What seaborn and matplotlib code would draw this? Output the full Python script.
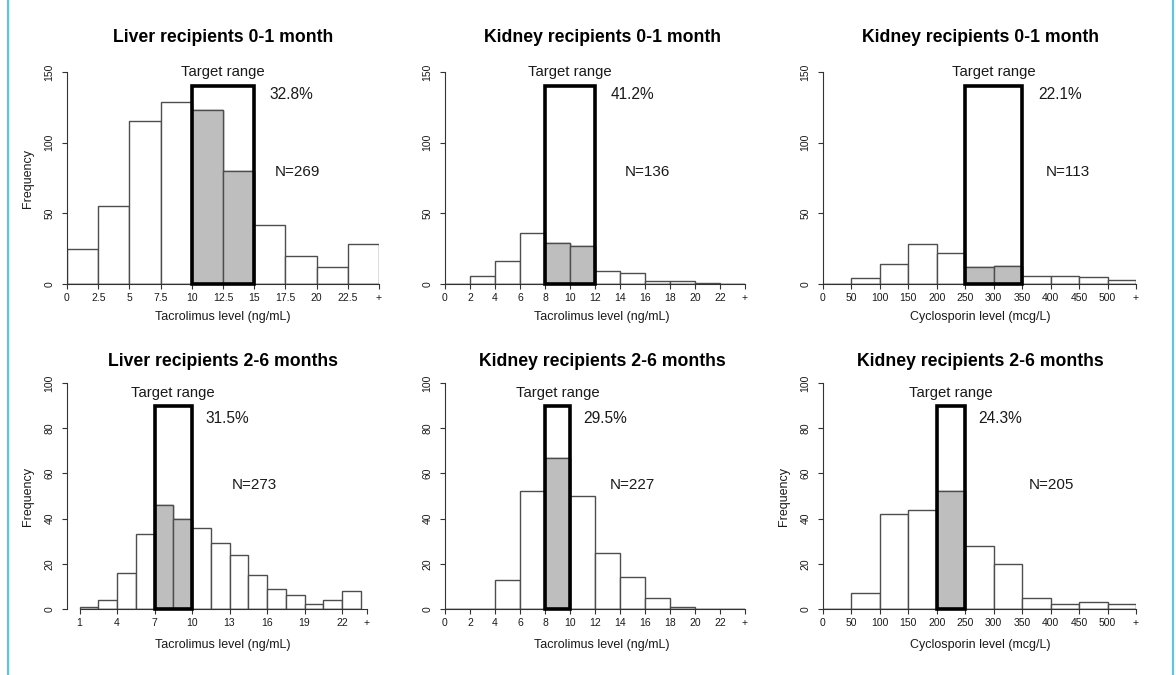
import numpy as np
import pandas as pd
import seaborn as sns
import matplotlib.pyplot as plt
from matplotlib.patches import Rectangle
from matplotlib.lines import Line2D

# bin edges / counts
tac_edges_25 = [0, 2.5, 5, 7.5, 10, 12.5, 15, 17.5, 20, 22.5, 25]
tac_edges_2 = [0, 2, 4, 6, 8, 10, 12, 14, 16, 18, 20, 22, 24]
tac_edges_15 = [1, 2.5, 4, 5.5, 7, 8.5, 10, 11.5, 13, 14.5, 16, 17.5, 19, 20.5, 22, 23.5]
cyc_edges = [0, 50, 100, 150, 200, 250, 300, 350, 400, 450, 500, 550]

liver01_counts = [25, 55, 115, 129, 123, 80, 42, 20, 12, 28]
kid_tac01_counts = [0, 6, 16, 36, 29, 27, 9, 8, 2, 2, 1, 0]
kid_cyc01_counts = [0, 4, 14, 28, 22, 12, 13, 6, 6, 5, 3]
liver26_counts = [1, 4, 16, 33, 46, 40, 36, 29, 24, 15, 9, 6, 2, 4, 8]
kid_tac26_counts = [0, 0, 13, 52, 67, 50, 25, 14, 5, 1, 0, 0]
kid_cyc26_counts = [0, 7, 42, 44, 52, 28, 20, 5, 2, 3, 2]

# target ranges, box heights, percent in range, N
targets = [(10, 15), (8, 12), (250, 350), (7, 10), (8, 10), (200, 250)]
box_heights = [140, 140, 140, 90, 90, 90]
pct_labels = ["32.8%", "41.2%", "22.1%", "31.5%", "29.5%", "24.3%"]
n_labels = ["N=269", "N=136", "N=113", "N=273", "N=227", "N=205"]

titles = ["Liver recipients 0-1 month", "Kidney recipients 0-1 month", "Kidney recipients 0-1 month",
          "Liver recipients 2-6 months", "Kidney recipients 2-6 months", "Kidney recipients 2-6 months"]
xlabels = ["Tacrolimus level (ng/mL)", "Tacrolimus level (ng/mL)", "Cyclosporin level (mcg/L)",
           "Tacrolimus level (ng/mL)", "Tacrolimus level (ng/mL)", "Cyclosporin level (mcg/L)"]
show_ylabel = [True, False, False, True, False, True]

tac_ticks_25 = [0, 2.5, 5, 7.5, 10, 12.5, 15, 17.5, 20, 22.5, 25]
tac_ticklabels_25 = ["0", "2.5", "5", "7.5", "10", "12.5", "15", "17.5", "20", "22.5", "+"]
tac_ticks_2 = [0, 2, 4, 6, 8, 10, 12, 14, 16, 18, 20, 22, 24]
tac_ticklabels_2 = ["0", "2", "4", "6", "8", "10", "12", "14", "16", "18", "20", "22", "+"]
cyc_ticks = [0, 50, 100, 150, 200, 250, 300, 350, 400, 450, 500, 550]
cyc_ticklabels = ["0", "50", "100", "150", "200", "250", "300", "350", "400", "450", "500", "+"]
tac_ticks_3 = [1, 4, 7, 10, 13, 16, 19, 22, 24]
tac_ticklabels_3 = ["1", "4", "7", "10", "13", "16", "19", "22", "+"]

yticks_top = [0, 50, 100, 150]
yticks_bottom = [0, 20, 40, 60, 80, 100]

panels = [
    (tac_edges_25, liver01_counts, tac_ticks_25, tac_ticklabels_25, yticks_top),
    (tac_edges_2, kid_tac01_counts, tac_ticks_2, tac_ticklabels_2, yticks_top),
    (cyc_edges, kid_cyc01_counts, cyc_ticks, cyc_ticklabels, yticks_top),
    (tac_edges_15, liver26_counts, tac_ticks_3, tac_ticklabels_3, yticks_bottom),
    (tac_edges_2, kid_tac26_counts, tac_ticks_2, tac_ticklabels_2, yticks_bottom),
    (cyc_edges, kid_cyc26_counts, cyc_ticks, cyc_ticklabels, yticks_bottom),
]

# layout in pixels: (left, top, right, bottom) of each plot area
W, H = 1176, 675
rects = [(67, 72, 379, 284), (445, 72, 745, 284), (823, 72, 1136, 284),
         (67, 383, 367, 609), (445, 383, 745, 609), (823, 383, 1136, 609)]
col_centers = [223, 602, 980]
title_y = [37, 362]
xlabel_y = [317, 645]
# text anchors (data coords): target label y, percent (x,y), N (x,y)
text_pos = [
    (150, (18, 134), (18.5, 79)),
    (150, (15, 134), (16.2, 79)),
    (150, (416, 134), (430, 79)),
    (95.6, (12.8, 84.5), (15, 55)),
    (95.6, (12.8, 84.5), (15, 55)),
    (95.6, (311, 84.5), (402, 55)),
]

sns.set_style("ticks")
plt.rcParams['font.family'] = ['Liberation Sans', 'DejaVu Sans']
ink = '#1a1a1a'
edge = '#4d4d4d'

fig = plt.figure(figsize=(W / 100, H / 100), dpi=100)

for i, (edges, counts, xt, xtl, yt) in enumerate(panels):
    l, t, r, b = rects[i]
    ax = fig.add_axes([l / W, 1 - b / H, (r - l) / W, (b - t) / H])
    e = np.array(edges, dtype=float)
    centers = (e[:-1] + e[1:]) / 2
    df = pd.DataFrame({'level': centers, 'count': counts})
    lo, hi = targets[i]
    inside = df[(df['level'] > lo) & (df['level'] < hi)]

    sns.histplot(data=df, x='level', weights='count', bins=list(edges), ax=ax,
                 color='white', edgecolor=edge, linewidth=1.0, alpha=1)
    sns.histplot(data=inside, x='level', weights='count', bins=list(edges), ax=ax,
                 color='#bebebe', edgecolor=edge, linewidth=1.0, alpha=1)
    ax.add_patch(Rectangle((lo, 0), hi - lo, box_heights[i], fill=False,
                           edgecolor='black', linewidth=2.6, zorder=5, clip_on=False))

    ax.set_xlim(0, xt[-1])
    ax.set_ylim(0, yt[-1])
    ax.set_xticks(xt)
    ax.set_xticklabels(xtl)
    ax.set_yticks(yt)
    ax.set_xlabel('')
    ax.set_ylabel('')
    sns.despine(ax=ax)
    ax.spines['bottom'].set_bounds(xt[0], xt[-1])
    ax.spines['left'].set_bounds(0, yt[-1])
    for s in ['bottom', 'left']:
        ax.spines[s].set_color('#333333')
        ax.spines[s].set_linewidth(0.8)
    ax.tick_params(axis='x', length=3.6, width=0.8, color='#333333', labelsize=7.5, pad=3.2, labelcolor=ink)
    ax.tick_params(axis='y', length=3.6, width=0.8, color='#333333', labelsize=7.5, pad=5.5,
                   labelrotation=90, labelcolor=ink)
    for lab in ax.get_yticklabels():
        lab.set_va('center')

    ty, (px, py), (nx, ny) = text_pos[i]
    ax.text((lo + hi) / 2, ty, "Target range", ha='center', va='center', fontsize=10.7, color=ink, clip_on=False)
    ax.text(px, py, pct_labels[i], ha='center', va='center', fontsize=11.2, color=ink)
    ax.text(nx, ny, n_labels[i], ha='center', va='center', fontsize=11, color=ink)

    row, col = divmod(i, 3)
    fig.text(col_centers[col] / W, 1 - title_y[row] / H, titles[i], ha='center', va='center',
             fontsize=12.7, fontweight='bold', color='black')
    fig.text(col_centers[col] / W, 1 - xlabel_y[row] / H, xlabels[i], ha='center', va='center',
             fontsize=9, color=ink)
    if show_ylabel[i]:
        fig.text((l - 39) / W, 1 - (t + b) / 2 / H, "Frequency", ha='center', va='center',
                 rotation=90, fontsize=9, color=ink)

# light blue frame lines at the sides
for xpx in [8, 1173]:
    fig.add_artist(Line2D([xpx / W, xpx / W], [0, 1], color='#5cc6e2', linewidth=1.6))

fig.savefig("out.png", dpi=100, facecolor='white')
